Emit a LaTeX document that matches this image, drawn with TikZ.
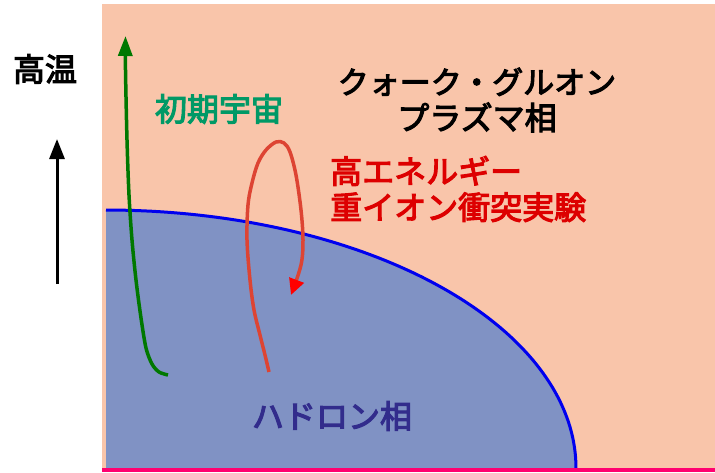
\documentclass[tikz,border=0pt]{standalone}
\usepackage{fontspec}
\newfontfamily\jp{Noto Sans CJK JP}[FakeBold=3.5]
\usetikzlibrary{arrows.meta}
\definecolor{peach}{RGB}{249,197,170}
\definecolor{hadron}{RGB}{128,146,196}
\definecolor{bline}{RGB}{0,0,238}
\definecolor{pinkline}{RGB}{255,0,112}
\definecolor{darkgr}{RGB}{0,120,0}
\definecolor{textgr}{RGB}{0,153,102}
\definecolor{redline}{RGB}{221,68,51}
\definecolor{redtext}{RGB}{221,0,0}
\definecolor{navytext}{RGB}{50,44,140}
\begin{document}
\begin{tikzpicture}[x=1pt,y=-1pt,
  jptext/.style={font=\jp\fontsize{32}{36}\selectfont, inner sep=0pt},
  traj/.style={line width=3.5pt, line join=round}]
\useasboundingbox (0,0) rectangle (715,472);
\fill[white] (0,0) rectangle (715,472);
\fill[peach] (102,4) rectangle (715,472);
% hadron phase region
\fill[hadron] (106,468) -- plot[domain=90:0,samples=80] ({106+470*cos(\x)},{468-258*sin(\x)}) -- cycle;
\draw[bline, line width=3pt] plot[domain=90:0,samples=80] ({106+470*cos(\x)},{468-258*sin(\x)});
\draw[pinkline, line width=4pt] (102,470) -- (715,470);
% temperature arrow
\coordinate (tlow) at (57,284);
\coordinate (thigh) at (57,139);
\draw[black, line width=3pt, -{Triangle[length=20pt,width=15pt]}] (tlow) -- (thigh);
\node[jptext, black] (hot) at (45,69) {高温};
% early universe trajectory
\draw[traj, darkgr, -{Triangle[length=20pt,width=14pt]}] plot[smooth, tension=0.5] coordinates
 {(168,375) (159,372) (152,364) (146,348) (141,318) (136,280) (132,240) (129,195) (127,140) (125.5,70) (125.5,36)};
\node[jptext, textgr] (early) at (219,109) {初期宇宙};
% heavy-ion trajectory
\draw[traj, redline, -{Triangle[length=16pt,width=15pt,fill=red,color=red]}] plot[smooth, tension=0.55] coordinates
 {(269,372) (265,355) (260,335) (254,310) (250,280) (247,240) (248,205) (252,183) (258,163) (266,150) (276,142) (284,143) (290,152) (296,175) (301,210) (303,240) (301,265) (291,295)};
\node[jptext, redtext, align=left, anchor=west] (hic) at (330,189)
  {\fontsize{32}{38}\selectfont 高エネルギー\\重イオン衝突実験};
\node[jptext, black, align=center] (qgp) at (477,100)
  {\fontsize{31}{33}\selectfont クォーク・グルオン\\プラズマ相};
\node[jptext, navytext] (hadronlbl) at (332,416) {ハドロン相};
\end{tikzpicture}
\end{document}
